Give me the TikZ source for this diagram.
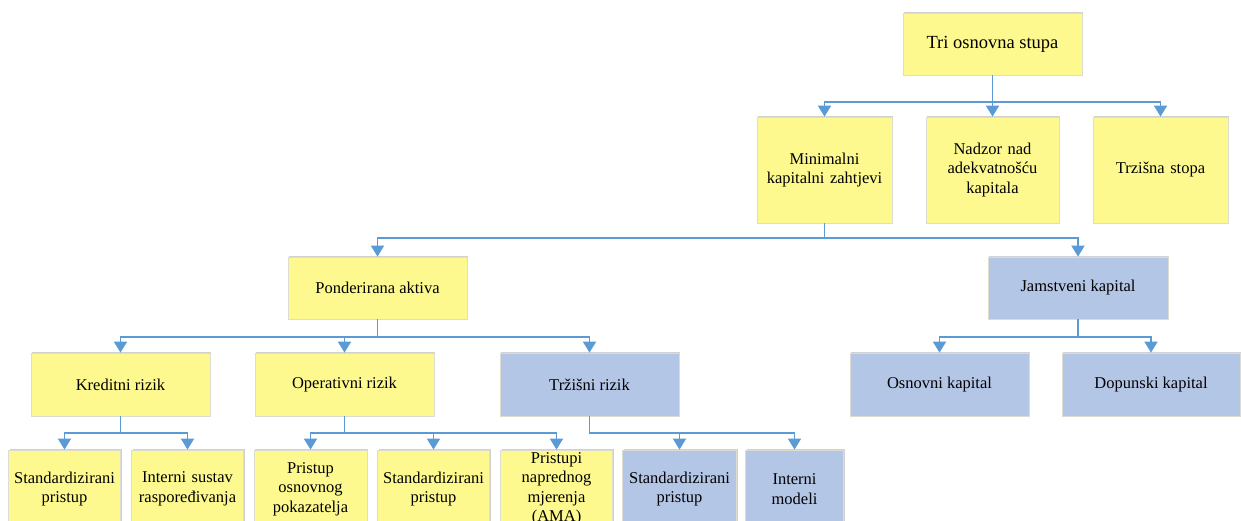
\documentclass[tikz,border=0pt]{standalone}
\usepackage{fontspec}
\setmainfont{Liberation Serif}
\usetikzlibrary{arrows.meta,shadows}
\definecolor{boxyellow}{HTML}{FDF98F}
\definecolor{boxblue}{HTML}{B4C6E6}
\definecolor{linkblue}{HTML}{5B9BD5}
\definecolor{boxedge}{HTML}{DCDCD0}
\tikzset{
  box/.style={draw=boxedge, line width=0.8pt, align=center, inner sep=2pt,
    font=\fontsize{16.5}{19.5}\selectfont, text=black,
    drop shadow={shadow xshift=1.2pt, shadow yshift=1.2pt, opacity=0.18, fill=black}},
  ybox/.style={box, fill=boxyellow},
  bbox/.style={box, fill=boxblue},
  conn/.style={draw=linkblue, line width=1.8pt, -{Triangle[width=13pt,length=11pt]}},
}
\begin{document}
\begin{tikzpicture}[x=1pt,y=-1pt]
\useasboundingbox (0,0) rectangle (1241,520);
\clip (0,0) rectangle (1241,520);
\fill[white] (0,0) rectangle (1241,520);
% bus coordinates
\coordinate (bus1) at (0,102);
\coordinate (bus2) at (0,238);
\coordinate (bus3) at (0,337);
\coordinate (bus4) at (0,433);
% level 1
\node[ybox, minimum width=179, minimum height=62, font=\fontsize{18.5}{21}\selectfont] (tri) at (992.5,44) {Tri osnovna stupa};
% level 2
\node[ybox, minimum width=135, minimum height=106, text width=130] (min) at (824.5,170) {Minimalni\\kapitalni zahtjevi};
\node[ybox, minimum width=133, minimum height=106, text width=128] (nad) at (992.5,170) {Nadzor nad\\adekvatnošću\\kapitala};
\node[ybox, minimum width=135, minimum height=106, text width=130] (trz) at (1160.5,170) {Trzišna stopa};
% level 3
\node[ybox, minimum width=179, minimum height=62] (pon) at (377.5,288) {Ponderirana aktiva};
\node[bbox, minimum width=180, minimum height=62] (jam) at (1078,288) {Jamstveni kapital};
% level 4
\node[ybox, minimum width=179, minimum height=63] (kre) at (120.5,384.5) {Kreditni rizik};
\node[ybox, minimum width=179, minimum height=63] (ope) at (344.5,384.5) {Operativni rizik};
\node[bbox, minimum width=179, minimum height=63] (trr) at (589.5,384.5) {Tržišni rizik};
\node[bbox, minimum width=179, minimum height=63] (osn) at (939.5,384.5) {Osnovni kapital};
\node[bbox, minimum width=178, minimum height=63] (dop) at (1151,384.5) {Dopunski kapital};
% level 5
\node[ybox, minimum width=111, minimum height=78, text width=108] (k1) at (64.5,489) {Standardizirani\\pristup};
\node[ybox, minimum width=111, minimum height=78, text width=108] (k2) at (187.5,489) {Interni sustav\\raspoređivanja};
\node[ybox, minimum width=113, minimum height=78, text width=108] (o1) at (310.5,489) {Pristup\\osnovnog\\pokazatelja};
\node[ybox, minimum width=111, minimum height=78, text width=108] (o2) at (433.5,489) {Standardizirani\\pristup};
\node[ybox, minimum width=111, minimum height=78, text width=108] (o3) at (556.5,489) {Pristupi\\naprednog\\mjerenja\\(AMA)};
\node[bbox, minimum width=113, minimum height=78, text width=110] (t1) at (679.5,489) {Standardizirani\\pristup};
\node[bbox, minimum width=97, minimum height=78, text width=94] (t2) at (794.5,489) {Interni\\modeli};
% connectors
\foreach \c in {min,nad,trz} \draw[conn] (tri.south) -- (tri.south |- bus1) -| (\c.north);
\foreach \c in {pon,jam} \draw[conn] (min.south) -- (min.south |- bus2) -| (\c.north);
\foreach \c in {kre,ope,trr} \draw[conn] (pon.south) -- (pon.south |- bus3) -| (\c.north);
\foreach \c in {osn,dop} \draw[conn] (jam.south) -- (jam.south |- bus3) -| (\c.north);
\foreach \c in {k1,k2} \draw[conn] (kre.south) -- (kre.south |- bus4) -| (\c.north);
\foreach \c in {o1,o2,o3} \draw[conn] (ope.south) -- (ope.south |- bus4) -| (\c.north);
\foreach \c in {t1,t2} \draw[conn] (trr.south) -- (trr.south |- bus4) -| (\c.north);
\end{tikzpicture}
\end{document}
